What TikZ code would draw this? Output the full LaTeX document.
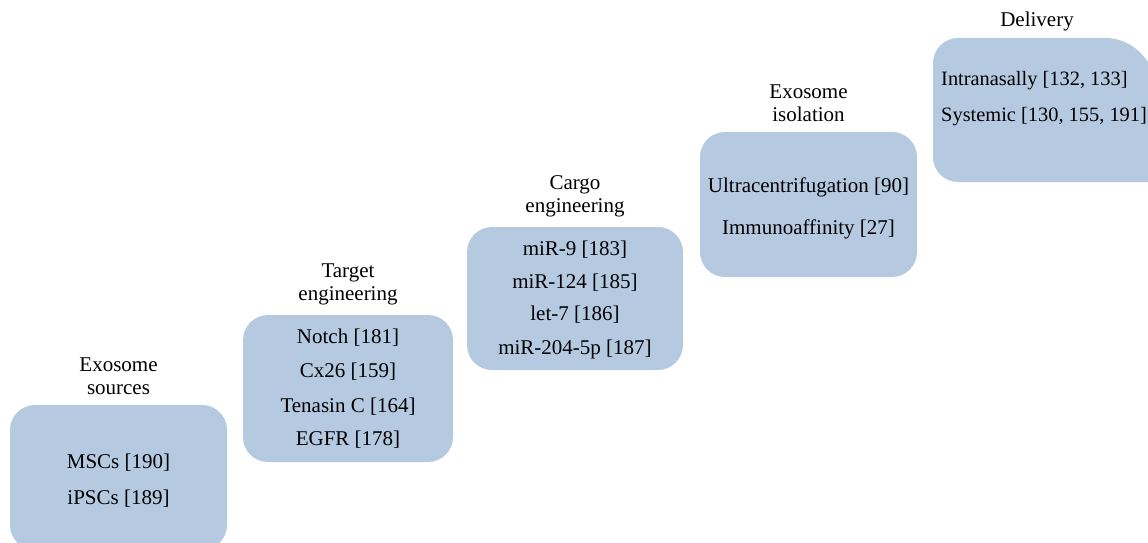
\documentclass[tikz,border=0pt]{standalone}
\usepackage{fontspec}
\setmainfont{Liberation Serif}
\usepackage{tikz}
\usetikzlibrary{positioning}
\definecolor{stageblue}{RGB}{181,201,225}

\begin{document}
\begin{tikzpicture}[x=1pt, y=-1pt, font=\fontsize{21}{23}\selectfont,
  stagebox/.style={fill=stageblue, rounded corners=25pt, inner sep=0pt},
  stagetitle/.style={align=center, inner sep=0pt},
  itemtext/.style={anchor=base, inner sep=0pt}]
  \clip (0,0) rectangle (1148,543);

  % exosome sources
  \node[stagebox, minimum width=217pt, minimum height=145pt] (sources) at (118.5,477.5) {};
  \node[stagetitle, above=10pt of sources] (sourcestitle) {Exosome\\sources};
  \node[itemtext] (mscs) at (118.5,468) {MSCs [190]};
  \node[itemtext] (ipscs) at (118.5,504) {iPSCs [189]};

  % target engineering
  \node[stagebox, minimum width=210pt, minimum height=147pt] (target) at (348,388.5) {};
  \node[stagetitle, above=10pt of target] (targettitle) {Target\\engineering};
  \node[itemtext] (notch) at (348,343) {Notch [181]};
  \node[itemtext] (cx26) at (348,377) {Cx26 [159]};
  \node[itemtext] (tenasin) at (348,412) {Tenasin C [164]};
  \node[itemtext] (egfr) at (348,445) {EGFR [178]};

  % cargo engineering
  \node[stagebox, minimum width=216pt, minimum height=143pt] (cargo) at (575,298.5) {};
  \node[stagetitle, above=10pt of cargo] (cargotitle) {Cargo\\engineering};
  \node[itemtext] (mirnine) at (575,255) {miR-9 [183]};
  \node[itemtext] (mironetwofour) at (575,288) {miR-124 [185]};
  \node[itemtext] (letseven) at (575,320) {let-7 [186]};
  \node[itemtext] (mirtwozerofour) at (575,354) {miR-204-5p [187]};

  % exosome isolation
  \node[stagebox, minimum width=217pt, minimum height=145pt] (isolation) at (808.5,204.5) {};
  \node[stagetitle, above=10pt of isolation] (isolationtitle) {Exosome\\isolation};
  \node[itemtext] (ultra) at (808.5,192) {Ultracentrifugation [90]};
  \node[itemtext] (immuno) at (808.5,234) {Immunoaffinity [27]};

  % delivery (runs off the right edge)
  \fill[stageblue] (933,63) arc[start angle=180, end angle=270, radius=25]
    -- (1105,38) arc[start angle=270, end angle=360, radius=50]
    -- (1155,182) -- (958,182) arc[start angle=90, end angle=180, radius=25] -- cycle;
  \node[itemtext] (deliverytitle) at (1037,27) {Delivery};
  \node[itemtext, anchor=base west, font=\fontsize{20.4}{23}\selectfont] (nasal) at (941,85) {Intranasally [132, 133]};
  \node[itemtext, anchor=base west, font=\fontsize{20.4}{23}\selectfont] (systemic) at (941,121) {Systemic [130, 155, 191]};
\end{tikzpicture}
\end{document}
